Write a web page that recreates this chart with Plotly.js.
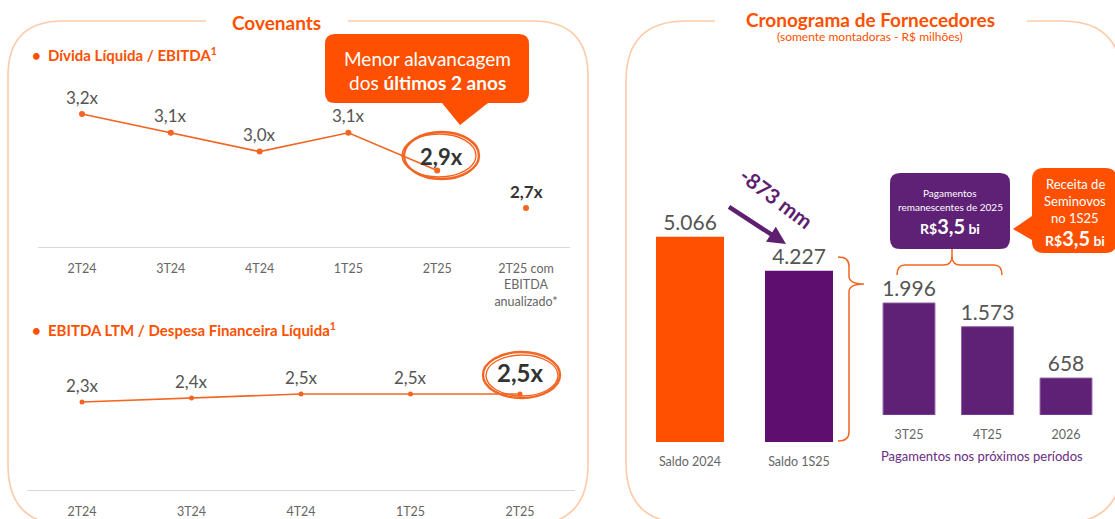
<!DOCTYPE html>
<html>
<head>
<meta charset="utf-8">
<script src="https://cdn.plot.ly/plotly-3.0.1.min.js"></script>
<style>html,body{margin:0;padding:0;background:#fff;}#chart{width:1115px;height:519px;}</style>
</head>
<body>
<div id="chart"></div>
<script>
// ---- data ----
const divCats = ['2T24', '3T24', '4T24', '1T25', '2T25', '2T25 com<br>EBITDA<br>anualizado*'];
const divVals = [3.2, 3.1, 3.0, 3.1, 2.9];
const divAnual = [2.7];
const ebCats = ['2T24', '3T24', '4T24', '1T25', '2T25'];
const ebVals = [2.3, 2.4, 2.5, 2.5, 2.5];
const saldoCats = ['Saldo 2024', 'Saldo 1S25'];
const saldoVals = [5066, 4227];
const pagCats = ['3T25', '4T25', '2026'];
const pagVals = [1996, 1573, 658];

// ---- helpers ----
const W = 1115, H = 519;
const px = x => x / W;
const py = y => 1 - y / H;
const FONT = 'Lato, "Open Sans", sans-serif';
const ORANGE = '#F26522';
const VIVID = '#FE5000';
const PURPLE = '#5F2176';
const BORDER = '#FDCBAA';
function path(pts) {
  return pts.map(p => p[0] + p.slice(1).map((v, i) => (i % 2 === 0 ? px(v) : py(v)).toFixed(5)).join(',')).join(' ');
}
const fmt = v => v.toFixed(1).replace('.', ',') + 'x';

const traces = [
  {x: divCats.slice(0, divVals.length), y: divVals, xaxis: 'x', yaxis: 'y', type: 'scatter', mode: 'lines+markers',
   line: {color: ORANGE, width: 1.6}, marker: {color: ORANGE, size: 6}, hoverinfo: 'skip', cliponaxis: false},
  {x: [divCats[5]], y: divAnual, xaxis: 'x', yaxis: 'y', type: 'scatter', mode: 'markers',
   marker: {color: ORANGE, size: 6}, hoverinfo: 'skip', cliponaxis: false},
  {x: ebCats, y: ebVals, xaxis: 'x2', yaxis: 'y2', type: 'scatter', mode: 'lines+markers',
   line: {color: ORANGE, width: 1.6}, marker: {color: ORANGE, size: 5}, hoverinfo: 'skip', cliponaxis: false},
  {x: saldoCats, y: saldoVals, xaxis: 'x3', yaxis: 'y3', type: 'bar', width: 0.624,
   marker: {color: [VIVID, '#5E0E6E']}, texttemplate: '%{y:,.0f}', textposition: 'outside',
   textfont: {size: 21, color: '#555', family: FONT}, constraintext: 'none', cliponaxis: false, hoverinfo: 'skip'},
  {x: pagCats, y: pagVals, xaxis: 'x4', yaxis: 'y4', type: 'bar', width: 0.66,
   marker: {color: PURPLE, line: {color: '#8A5A9E', width: 1}}, texttemplate: '%{y:,.0f}', textposition: 'outside',
   textfont: {size: 21, color: '#555', family: FONT}, constraintext: 'none', cliponaxis: false, hoverinfo: 'skip'}
];

const tickCommon = {ticks: 'outside', tickcolor: 'rgba(0,0,0,0)', tickfont: {size: 12.5, color: '#666', family: FONT},
  showgrid: false, zeroline: false, fixedrange: true, type: 'category'};
const hiddenY = {visible: false, showgrid: false, zeroline: false, fixedrange: true};

const annotations = [];
divVals.concat(divAnual).forEach((v, i) => {
  const hi = i === 4, an = i === 5;
  annotations.push({xref: 'x', yref: 'y', x: divCats[i], y: v, text: (hi || an) ? '<b>' + fmt(v) + '</b>' : fmt(v),
    showarrow: false, yshift: hi ? 14 : 17, xshift: hi ? 4 : 0,
    font: {family: FONT, size: hi ? 22 : 17, color: (hi || an) ? '#333' : '#555'}});
});
ebVals.forEach((v, i) => {
  const hi = i === ebVals.length - 1;
  annotations.push({xref: 'x2', yref: 'y2', x: ebCats[i], y: v, text: hi ? '<b>' + fmt(v) + '</b>' : fmt(v),
    showarrow: false, yshift: hi ? 22 : 17,
    font: {family: FONT, size: hi ? 24 : 17, color: hi ? '#333' : '#555'}});
});
function txt(x, y, text, size, color, extra) {
  annotations.push(Object.assign({xref: 'paper', yref: 'paper', x: px(x), y: py(y), text: text, showarrow: false,
    xanchor: 'center', yanchor: 'middle', font: {family: FONT, size: size, color: color}}, extra || {}));
}
txt(276, 23, '<b>Covenants</b>', 19, VIVID);
txt(870, 19, '<b>Cronograma de Fornecedores</b>', 19, VIVID);
txt(870, 37, '(somente montadoras - R$ milhões)', 12, VIVID);
txt(30, 54, '<b>•  Dívida Líquida / EBITDA<sup>1</sup></b>', 15, VIVID, {xanchor: 'left'});
txt(30, 329, '<b>•  EBITDA LTM / Despesa Financeira Líquida<sup>1</sup></b>', 15, VIVID, {xanchor: 'left'});
txt(427, 58, 'Menor alavancagem', 19, '#fff');
txt(427, 82, 'dos <b>últimos 2 anos</b>', 19, '#fff');
txt(950, 193, 'Pagamentos', 10, '#fff');
txt(950, 207, 'remanescentes de 2025', 10, '#fff');
txt(950, 226, '<b>R$<span style="font-size:20px">3,5</span> bi</b>', 14, '#fff');
txt(1075, 184, 'Receita de', 13, '#fff');
txt(1075, 201, 'Seminovos', 13, '#fff');
txt(1075, 218, 'no 1S25', 13, '#fff');
txt(1075, 238, '<b>R$<span style="font-size:20px">3,5</span> bi</b>', 14, '#fff');
txt(982, 456, 'Pagamentos nos próximos períodos', 13, '#6A2C82');
txt(776, 198, '<b>-873 mm</b>', 21, '#5E1F70', {textangle: 37});
annotations.push({xref: 'paper', yref: 'paper', x: px(786), y: py(244), ax: -60, ay: -39, text: ' ', showarrow: true,
  arrowhead: 2, arrowsize: 0.8, arrowwidth: 4.5, arrowcolor: '#5E1F70', standoff: 0});

const shapes = [
  {type: 'path', xref: 'paper', yref: 'paper', layer: 'below', line: {color: BORDER, width: 1.6},
   path: path([['M', 206, 21], ['L', 63, 21], ['Q', 8, 21, 8, 76], ['L', 8, 465], ['Q', 8, 525, 68, 525], ['L', 528, 525],
     ['Q', 588, 525, 588, 465], ['L', 588, 76], ['Q', 588, 21, 533, 21], ['L', 348, 21]])},
  {type: 'path', xref: 'paper', yref: 'paper', layer: 'below', line: {color: BORDER, width: 1.6},
   path: path([['M', 715, 21], ['L', 686, 21], ['Q', 626, 21, 626, 81], ['L', 626, 463], ['Q', 626, 523, 686, 523],
     ['L', 1062, 523], ['Q', 1122, 523, 1122, 463], ['L', 1122, 81], ['Q', 1122, 21, 1062, 21], ['L', 1027, 21]])},
  {type: 'path', xref: 'paper', yref: 'paper', layer: 'below', line: {width: 0}, fillcolor: VIVID,
   path: path([['M', 335, 34], ['L', 519, 34], ['Q', 529, 34, 529, 44], ['L', 529, 93], ['Q', 529, 103, 519, 103],
     ['L', 488, 103], ['L', 460, 125], ['L', 442, 103], ['L', 335, 103], ['Q', 325, 103, 325, 93], ['L', 325, 44],
     ['Q', 325, 34, 335, 34]]) + ' Z'},
  {type: 'circle', xref: 'paper', yref: 'paper', x0: px(404), x1: px(479), y0: py(179), y1: py(132), line: {color: ORANGE, width: 2.4}},
  {type: 'circle', xref: 'paper', yref: 'paper', x0: px(402), x1: px(476), y0: py(177), y1: py(134), line: {color: ORANGE, width: 1.4}},
  {type: 'circle', xref: 'paper', yref: 'paper', x0: px(483), x1: px(560), y0: py(398), y1: py(352), line: {color: ORANGE, width: 2.4}},
  {type: 'circle', xref: 'paper', yref: 'paper', x0: px(486), x1: px(558), y0: py(396), y1: py(355), line: {color: ORANGE, width: 1.4}},
  {type: 'path', xref: 'paper', yref: 'paper', layer: 'below', line: {width: 0}, fillcolor: PURPLE,
   path: path([['M', 900, 173], ['L', 1000, 173], ['Q', 1010, 173, 1010, 183], ['L', 1010, 239], ['Q', 1010, 249, 1000, 249],
     ['L', 900, 249], ['Q', 890, 249, 890, 239], ['L', 890, 183], ['Q', 890, 173, 900, 173]]) + ' Z'},
  {type: 'path', xref: 'paper', yref: 'paper', layer: 'below', line: {width: 0}, fillcolor: VIVID,
   path: path([['M', 1044, 168], ['L', 1105, 168], ['Q', 1117, 168, 1117, 180], ['L', 1117, 241], ['Q', 1117, 253, 1105, 253],
     ['L', 1044, 253], ['Q', 1032, 253, 1032, 241], ['L', 1032, 240], ['L', 1013, 229], ['L', 1032, 216], ['L', 1032, 180],
     ['Q', 1032, 168, 1044, 168]]) + ' Z'},
  {type: 'path', xref: 'paper', yref: 'paper', line: {color: ORANGE, width: 1.5},
   path: path([['M', 838, 257], ['Q', 849, 257, 849, 266], ['L', 849, 276], ['Q', 849, 284, 864, 284], ['Q', 849, 284, 849, 292],
     ['L', 849, 432], ['Q', 849, 441, 838, 441]])},
  {type: 'path', xref: 'paper', yref: 'paper', line: {color: ORANGE, width: 1.5},
   path: path([['M', 897, 275], ['Q', 897, 265, 905, 265], ['L', 944, 265], ['Q', 952, 265, 952, 256], ['Q', 952, 265, 960, 265],
     ['L', 994, 265], ['Q', 1002, 265, 1002, 275]])},
  {type: 'line', xref: 'paper', yref: 'paper', x0: px(952), x1: px(952), y0: py(256), y1: py(249), line: {color: ORANGE, width: 1.5}}
];

const layout = {
  width: W, height: H, margin: {l: 0, r: 0, t: 0, b: 0}, paper_bgcolor: '#fff', plot_bgcolor: 'rgba(0,0,0,0)',
  showlegend: false, separators: ',.', font: {family: FONT},
  xaxis: Object.assign({}, tickCommon, {domain: [37.6 / W, 570.4 / W], range: [-0.5, 5.5], anchor: 'y', ticklen: 10,
    showline: true, linecolor: '#D9D9D9', linewidth: 1}),
  yaxis: Object.assign({}, hiddenY, {domain: [py(247), py(90)], range: [2.4926, 3.3277], anchor: 'x'}),
  xaxis2: Object.assign({}, tickCommon, {domain: [27.25 / W, 574.75 / W], range: [-0.5, 4.5], anchor: 'y2', ticklen: 10,
    showline: true, linecolor: '#D9D9D9', linewidth: 1}),
  yaxis2: Object.assign({}, hiddenY, {domain: [py(490), py(350)], range: [0.1, 3.6], anchor: 'x2'}),
  xaxis3: Object.assign({}, tickCommon, {domain: [635.5 / W, 853.5 / W], range: [-0.5, 1.5], anchor: 'y3', ticklen: 8, showline: false}),
  yaxis3: Object.assign({}, hiddenY, {domain: [py(442), py(160)], range: [0, 6963], anchor: 'x3'}),
  xaxis4: Object.assign({}, tickCommon, {domain: [869.75 / W, 1105.25 / W], range: [-0.5, 2.5], anchor: 'y4', ticklen: 8, showline: false}),
  yaxis4: Object.assign({}, hiddenY, {domain: [py(415), py(250)], range: [0, 2941], anchor: 'x4'}),
  annotations: annotations, shapes: shapes
};
Plotly.newPlot('chart', traces, layout, {displayModeBar: false, staticPlot: true});
</script>
</body>
</html>
